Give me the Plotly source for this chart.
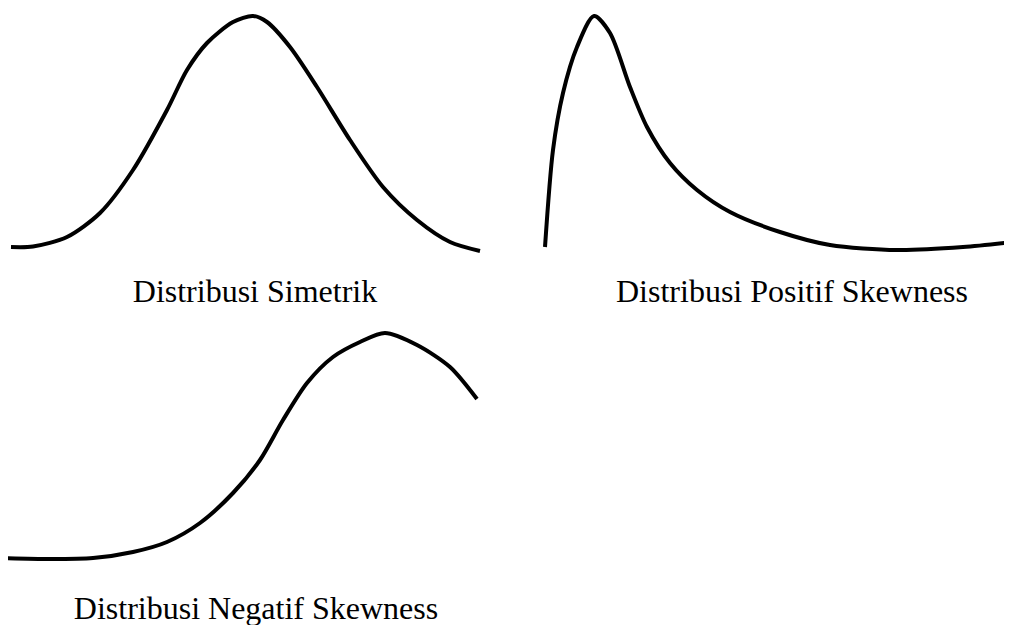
import plotly.graph_objects as go

# Curve traces (pixel space, y grows downward)
sym_x = [11, 33, 67, 100, 133, 167, 187, 207, 233, 253, 267, 290, 317, 350, 383, 417, 450, 480]
sym_y = [247, 246.5, 237, 213, 170, 110, 70, 43, 22, 16, 22, 47, 87, 140, 187, 220, 242, 251]

pos_x = [545, 553, 563, 577, 594, 610, 630, 647, 670, 697, 730, 780, 830, 897, 963, 1012]
pos_y = [247, 150, 93, 47, 16, 33, 87, 127, 163, 190, 212, 232, 245, 250, 247, 242]

neg_x = [0, 50, 93, 133, 167, 200, 233, 260, 283, 307, 333, 360, 385, 417, 450, 477]
neg_y = [558, 559, 558, 552, 542, 523, 493, 460, 420, 383, 357, 342, 333, 345, 367, 399]

labels = ["Distribusi Simetrik", "Distribusi Positif Skewness", "Distribusi Negatif Skewness"]
label_x = [255, 792, 256]
label_y = [294, 294, 611]

# page body adds an 8px offset, so the axes start at 8
OFF = 8
LINE = dict(color="#000000", width=4, shape="spline", smoothing=0.8)

fig = go.Figure()
for xs, ys in [(sym_x, sym_y), (pos_x, pos_y), (neg_x, neg_y)]:
    fig.add_trace(go.Scatter(x=xs, y=ys, mode="lines", line=LINE,
                             hoverinfo="skip", showlegend=False))

fig.add_trace(go.Scatter(
    x=label_x, y=label_y, mode="text", text=labels,
    textfont=dict(family="Liberation Serif, Times New Roman, serif", size=32, color="#000000"),
    hoverinfo="skip", showlegend=False, cliponaxis=False
))

fig.update_layout(
    width=1012, height=625,
    margin=dict(t=0, b=0, l=0, r=0),
    paper_bgcolor="#FFFFFF",
    plot_bgcolor="#FFFFFF",
    xaxis=dict(range=[OFF, 1012 + OFF], visible=False, fixedrange=True),
    yaxis=dict(range=[625 + OFF, OFF], visible=False, fixedrange=True),
)

fig.write_html("out.html")
